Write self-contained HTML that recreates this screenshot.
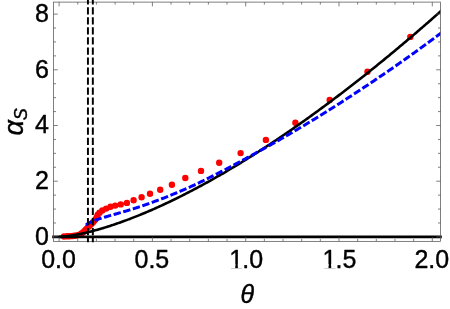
<!DOCTYPE html><html><head><meta charset="utf-8"><title>alpha_S vs theta</title><style>html,body{margin:0;padding:0;background:#fff;overflow:hidden}svg{display:block;will-change:transform}text{font-family:"Liberation Sans",sans-serif;fill:#000;stroke:#000;stroke-width:0.4px;stroke-linejoin:round}</style></head><body>
<svg width="450" height="309" viewBox="0 0 450 309">
<rect width="450" height="309" fill="#fff"/>
<defs><clipPath id="c"><rect x="53.5" y="2.1" width="387.0" height="239.25"/></clipPath></defs>
<g clip-path="url(#c)">
<path fill="#ff0000" d="M60.80,236.50a3.2,3.2 0 1,0 6.4,0a3.2,3.2 0 1,0 -6.4,0zM62.60,236.40a3.2,3.2 0 1,0 6.4,0a3.2,3.2 0 1,0 -6.4,0zM64.39,236.31a3.2,3.2 0 1,0 6.4,0a3.2,3.2 0 1,0 -6.4,0zM66.19,236.20a3.2,3.2 0 1,0 6.4,0a3.2,3.2 0 1,0 -6.4,0zM67.99,236.09a3.2,3.2 0 1,0 6.4,0a3.2,3.2 0 1,0 -6.4,0zM69.78,235.95a3.2,3.2 0 1,0 6.4,0a3.2,3.2 0 1,0 -6.4,0zM71.57,235.73a3.2,3.2 0 1,0 6.4,0a3.2,3.2 0 1,0 -6.4,0zM73.35,235.51a3.2,3.2 0 1,0 6.4,0a3.2,3.2 0 1,0 -6.4,0zM75.08,235.06a3.2,3.2 0 1,0 6.4,0a3.2,3.2 0 1,0 -6.4,0zM76.76,234.40a3.2,3.2 0 1,0 6.4,0a3.2,3.2 0 1,0 -6.4,0zM78.34,233.57a3.2,3.2 0 1,0 6.4,0a3.2,3.2 0 1,0 -6.4,0zM79.74,232.45a3.2,3.2 0 1,0 6.4,0a3.2,3.2 0 1,0 -6.4,0zM81.09,231.27a3.2,3.2 0 1,0 6.4,0a3.2,3.2 0 1,0 -6.4,0zM82.27,229.91a3.2,3.2 0 1,0 6.4,0a3.2,3.2 0 1,0 -6.4,0zM83.50,228.60a3.2,3.2 0 1,0 6.4,0a3.2,3.2 0 1,0 -6.4,0zM84.78,227.32a3.2,3.2 0 1,0 6.4,0a3.2,3.2 0 1,0 -6.4,0zM86.05,226.05a3.2,3.2 0 1,0 6.4,0a3.2,3.2 0 1,0 -6.4,0zM87.32,224.78a3.2,3.2 0 1,0 6.4,0a3.2,3.2 0 1,0 -6.4,0zM88.60,223.50a3.2,3.2 0 1,0 6.4,0a3.2,3.2 0 1,0 -6.4,0zM89.84,222.20a3.2,3.2 0 1,0 6.4,0a3.2,3.2 0 1,0 -6.4,0zM91.05,220.87a3.2,3.2 0 1,0 6.4,0a3.2,3.2 0 1,0 -6.4,0zM92.20,219.49a3.2,3.2 0 1,0 6.4,0a3.2,3.2 0 1,0 -6.4,0zM93.18,217.98a3.2,3.2 0 1,0 6.4,0a3.2,3.2 0 1,0 -6.4,0zM93.90,216.40a3.2,3.2 0 1,0 6.4,0a3.2,3.2 0 1,0 -6.4,0zM94.60,214.80a3.2,3.2 0 1,0 6.4,0a3.2,3.2 0 1,0 -6.4,0zM96.30,212.80a3.2,3.2 0 1,0 6.4,0a3.2,3.2 0 1,0 -6.4,0zM99.10,210.50a3.2,3.2 0 1,0 6.4,0a3.2,3.2 0 1,0 -6.4,0zM103.00,208.60a3.2,3.2 0 1,0 6.4,0a3.2,3.2 0 1,0 -6.4,0zM107.30,206.80a3.2,3.2 0 1,0 6.4,0a3.2,3.2 0 1,0 -6.4,0zM112.00,205.60a3.2,3.2 0 1,0 6.4,0a3.2,3.2 0 1,0 -6.4,0zM117.50,204.40a3.2,3.2 0 1,0 6.4,0a3.2,3.2 0 1,0 -6.4,0zM123.70,202.90a3.2,3.2 0 1,0 6.4,0a3.2,3.2 0 1,0 -6.4,0zM130.40,200.30a3.2,3.2 0 1,0 6.4,0a3.2,3.2 0 1,0 -6.4,0zM138.40,197.30a3.2,3.2 0 1,0 6.4,0a3.2,3.2 0 1,0 -6.4,0zM146.80,193.70a3.2,3.2 0 1,0 6.4,0a3.2,3.2 0 1,0 -6.4,0zM157.00,189.70a3.2,3.2 0 1,0 6.4,0a3.2,3.2 0 1,0 -6.4,0zM168.70,184.70a3.2,3.2 0 1,0 6.4,0a3.2,3.2 0 1,0 -6.4,0zM182.10,178.00a3.2,3.2 0 1,0 6.4,0a3.2,3.2 0 1,0 -6.4,0zM197.80,170.90a3.2,3.2 0 1,0 6.4,0a3.2,3.2 0 1,0 -6.4,0zM216.00,162.70a3.2,3.2 0 1,0 6.4,0a3.2,3.2 0 1,0 -6.4,0zM237.40,153.10a3.2,3.2 0 1,0 6.4,0a3.2,3.2 0 1,0 -6.4,0zM262.70,139.90a3.2,3.2 0 1,0 6.4,0a3.2,3.2 0 1,0 -6.4,0zM292.20,122.80a3.2,3.2 0 1,0 6.4,0a3.2,3.2 0 1,0 -6.4,0zM326.50,100.00a3.2,3.2 0 1,0 6.4,0a3.2,3.2 0 1,0 -6.4,0zM364.30,71.70a3.2,3.2 0 1,0 6.4,0a3.2,3.2 0 1,0 -6.4,0zM407.10,36.90a3.2,3.2 0 1,0 6.4,0a3.2,3.2 0 1,0 -6.4,0z"/>
<path d="M59.10,236.90 L60.39,236.86 L61.67,236.78 L62.96,236.67 L64.24,236.55 L65.53,236.41 L66.81,236.25 L68.10,236.08 L69.38,235.90 L70.67,235.71 L71.96,235.50 L73.24,235.29 L74.53,235.07 L75.81,234.83 L77.10,234.59 L78.38,234.34 L79.67,234.08 L80.96,233.81 L82.24,233.53 L83.53,233.25 L84.81,232.95 L86.10,232.65 L87.38,232.35 L88.67,232.03 L89.95,231.71 L91.24,231.39 L92.53,231.05 L93.81,230.71 L95.10,230.36 L96.38,230.01 L97.67,229.65 L98.95,229.29 L100.24,228.91 L101.52,228.54 L102.81,228.15 L104.10,227.77 L105.38,227.37 L106.67,226.97 L107.95,226.57 L109.24,226.16 L110.52,225.74 L111.81,225.32 L113.10,224.89 L114.38,224.46 L115.67,224.02 L116.95,223.58 L118.24,223.14 L119.52,222.69 L120.81,222.23 L122.09,221.77 L123.38,221.30 L124.67,220.83 L125.95,220.36 L127.24,219.88 L128.52,219.39 L129.81,218.91 L131.09,218.41 L132.38,217.91 L133.67,217.41 L134.95,216.91 L136.24,216.40 L137.52,215.88 L138.81,215.36 L140.09,214.84 L141.38,214.31 L142.66,213.78 L143.95,213.25 L145.24,212.71 L146.52,212.16 L147.81,211.61 L149.09,211.06 L150.38,210.51 L151.66,209.95 L152.95,209.38 L154.23,208.82 L155.52,208.25 L156.81,207.67 L158.09,207.09 L159.38,206.51 L160.66,205.92 L161.95,205.33 L163.23,204.74 L164.52,204.14 L165.81,203.54 L167.09,202.94 L168.38,202.33 L169.66,201.72 L170.95,201.10 L172.23,200.48 L173.52,199.86 L174.80,199.23 L176.09,198.60 L177.38,197.97 L178.66,197.33 L179.95,196.69 L181.23,196.05 L182.52,195.40 L183.80,194.75 L185.09,194.10 L186.37,193.44 L187.66,192.78 L188.95,192.12 L190.23,191.45 L191.52,190.78 L192.80,190.11 L194.09,189.43 L195.37,188.75 L196.66,188.07 L197.95,187.39 L199.23,186.70 L200.52,186.00 L201.80,185.31 L203.09,184.61 L204.37,183.91 L205.66,183.20 L206.94,182.49 L208.23,181.78 L209.52,181.07 L210.80,180.35 L212.09,179.63 L213.37,178.91 L214.66,178.18 L215.94,177.45 L217.23,176.72 L218.52,175.98 L219.80,175.25 L221.09,174.50 L222.37,173.76 L223.66,173.01 L224.94,172.26 L226.23,171.51 L227.51,170.75 L228.80,169.99 L230.09,169.23 L231.37,168.47 L232.66,167.70 L233.94,166.93 L235.23,166.16 L236.51,165.38 L237.80,164.60 L239.08,163.82 L240.37,163.04 L241.66,162.25 L242.94,161.46 L244.23,160.67 L245.51,159.87 L246.80,159.07 L248.08,158.27 L249.37,157.47 L250.66,156.66 L251.94,155.85 L253.23,155.04 L254.51,154.23 L255.80,153.41 L257.08,152.59 L258.37,151.77 L259.65,150.94 L260.94,150.11 L262.23,149.28 L263.51,148.45 L264.80,147.61 L266.08,146.78 L267.37,145.94 L268.65,145.09 L269.94,144.25 L271.22,143.40 L272.51,142.55 L273.80,141.69 L275.08,140.84 L276.37,139.98 L277.65,139.11 L278.94,138.25 L280.22,137.38 L281.51,136.52 L282.80,135.64 L284.08,134.77 L285.37,133.89 L286.65,133.01 L287.94,132.13 L289.22,131.25 L290.51,130.36 L291.79,129.47 L293.08,128.58 L294.37,127.69 L295.65,126.79 L296.94,125.89 L298.22,124.99 L299.51,124.09 L300.79,123.18 L302.08,122.27 L303.37,121.36 L304.65,120.45 L305.94,119.53 L307.22,118.61 L308.51,117.69 L309.79,116.77 L311.08,115.84 L312.36,114.92 L313.65,113.99 L314.94,113.05 L316.22,112.12 L317.51,111.18 L318.79,110.24 L320.08,109.30 L321.36,108.36 L322.65,107.41 L323.93,106.46 L325.22,105.51 L326.51,104.56 L327.79,103.60 L329.08,102.65 L330.36,101.69 L331.65,100.72 L332.93,99.76 L334.22,98.79 L335.51,97.82 L336.79,96.85 L338.08,95.88 L339.36,94.90 L340.65,93.92 L341.93,92.94 L343.22,91.96 L344.50,90.98 L345.79,89.99 L347.08,89.00 L348.36,88.01 L349.65,87.01 L350.93,86.02 L352.22,85.02 L353.50,84.02 L354.79,83.02 L356.07,82.01 L357.36,81.01 L358.65,80.00 L359.93,78.99 L361.22,77.97 L362.50,76.96 L363.79,75.94 L365.07,74.92 L366.36,73.90 L367.65,72.87 L368.93,71.85 L370.22,70.82 L371.50,69.79 L372.79,68.76 L374.07,67.72 L375.36,66.68 L376.64,65.64 L377.93,64.60 L379.22,63.56 L380.50,62.52 L381.79,61.47 L383.07,60.42 L384.36,59.37 L385.64,58.31 L386.93,57.26 L388.21,56.20 L389.50,55.14 L390.79,54.08 L392.07,53.01 L393.36,51.95 L394.64,50.88 L395.93,49.81 L397.21,48.74 L398.50,47.66 L399.79,46.59 L401.07,45.51 L402.36,44.43 L403.64,43.35 L404.93,42.26 L406.21,41.18 L407.50,40.09 L408.78,39.00 L410.07,37.90 L411.36,36.81 L412.64,35.71 L413.93,34.62 L415.21,33.52 L416.50,32.41 L417.78,31.31 L419.07,30.20 L420.36,29.09 L421.64,27.98 L422.93,26.87 L424.21,25.76 L425.50,24.64 L426.78,23.52 L428.07,22.40 L429.35,21.28 L430.64,20.16 L431.93,19.03 L433.21,17.90 L434.50,16.77 L435.78,15.64 L437.07,14.51 L438.35,13.37 L439.64,12.23 L440.92,11.09 L442.21,9.95 L443.50,8.81" fill="none" stroke="#000" stroke-width="2.6"/>
<path d="M85.97,224.91 L87.17,224.12 L88.36,223.40 L89.56,222.75 L90.75,222.15 L91.95,221.60 L93.14,221.09 L94.34,220.61 L95.54,220.15 L96.73,219.72 L97.93,219.31 L99.12,218.91 L100.32,218.52 L101.51,218.14 L102.71,217.77 L103.91,217.40 L105.10,217.04 L106.30,216.69 L107.49,216.33 L108.69,215.99 L109.89,215.64 L111.08,215.30 L112.28,214.96 L113.47,214.62 L114.67,214.29 L115.86,213.95 L117.06,213.61 L118.26,213.27 L119.45,212.93 L120.65,212.59 L121.84,212.25 L123.04,211.90 L124.23,211.56 L125.43,211.21 L126.63,210.85 L127.82,210.50 L129.02,210.14 L130.21,209.77 L131.41,209.41 L132.60,209.03 L133.80,208.66 L135.00,208.28 L136.19,207.89 L137.39,207.50 L138.58,207.10 L139.78,206.70 L140.97,206.30 L142.17,205.89 L143.37,205.48 L144.56,205.07 L145.76,204.65 L146.95,204.23 L148.15,203.81 L149.34,203.38 L150.54,202.95 L151.74,202.52 L152.93,202.09 L154.13,201.65 L155.32,201.21 L156.52,200.76 L157.71,200.32 L158.91,199.87 L160.11,199.41 L161.30,198.96 L162.50,198.50 L163.69,198.04 L164.89,197.57 L166.08,197.10 L167.28,196.63 L168.48,196.16 L169.67,195.68 L170.87,195.20 L172.06,194.71 L173.26,194.22 L174.45,193.73 L175.65,193.24 L176.85,192.74 L178.04,192.24 L179.24,191.74 L180.43,191.23 L181.63,190.72 L182.83,190.20 L184.02,189.68 L185.22,189.15 L186.41,188.62 L187.61,188.08 L188.80,187.54 L190.00,187.00 L191.20,186.44 L192.39,185.89 L193.59,185.33 L194.78,184.77 L195.98,184.20 L197.17,183.63 L198.37,183.05 L199.57,182.48 L200.76,181.90 L201.96,181.31 L203.15,180.73 L204.35,180.14 L205.54,179.55 L206.74,178.95 L207.94,178.36 L209.13,177.76 L210.33,177.16 L211.52,176.56 L212.72,175.96 L213.91,175.35 L215.11,174.75 L216.31,174.14 L217.50,173.53 L218.70,172.92 L219.89,172.32 L221.09,171.71 L222.28,171.09 L223.48,170.47 L224.68,169.85 L225.87,169.23 L227.07,168.61 L228.26,167.98 L229.46,167.35 L230.65,166.72 L231.85,166.08 L233.05,165.44 L234.24,164.80 L235.44,164.16 L236.63,163.52 L237.83,162.87 L239.02,162.23 L240.22,161.58 L241.42,160.93 L242.61,160.28 L243.81,159.62 L245.00,158.97 L246.20,158.31 L247.40,157.66 L248.59,157.00 L249.79,156.34 L250.98,155.68 L252.18,155.02 L253.37,154.36 L254.57,153.70 L255.77,153.04 L256.96,152.38 L258.16,151.72 L259.35,151.05 L260.55,150.39 L261.74,149.73 L262.94,149.07 L264.14,148.41 L265.33,147.75 L266.53,147.08 L267.72,146.42 L268.92,145.75 L270.11,145.08 L271.31,144.41 L272.51,143.74 L273.70,143.07 L274.90,142.39 L276.09,141.71 L277.29,141.04 L278.48,140.36 L279.68,139.67 L280.88,138.99 L282.07,138.30 L283.27,137.62 L284.46,136.93 L285.66,136.24 L286.85,135.55 L288.05,134.85 L289.25,134.16 L290.44,133.46 L291.64,132.76 L292.83,132.06 L294.03,131.36 L295.22,130.66 L296.42,129.95 L297.62,129.24 L298.81,128.53 L300.01,127.82 L301.20,127.11 L302.40,126.40 L303.59,125.68 L304.79,124.97 L305.99,124.25 L307.18,123.53 L308.38,122.80 L309.57,122.08 L310.77,121.35 L311.96,120.63 L313.16,119.90 L314.36,119.17 L315.55,118.44 L316.75,117.70 L317.94,116.97 L319.14,116.23 L320.34,115.49 L321.53,114.75 L322.73,114.01 L323.92,113.26 L325.12,112.52 L326.31,111.77 L327.51,111.02 L328.71,110.27 L329.90,109.52 L331.10,108.76 L332.29,108.01 L333.49,107.25 L334.68,106.49 L335.88,105.73 L337.08,104.97 L338.27,104.20 L339.47,103.44 L340.66,102.67 L341.86,101.90 L343.05,101.13 L344.25,100.36 L345.45,99.59 L346.64,98.82 L347.84,98.04 L349.03,97.27 L350.23,96.49 L351.42,95.71 L352.62,94.93 L353.82,94.15 L355.01,93.37 L356.21,92.58 L357.40,91.80 L358.60,91.01 L359.79,90.22 L360.99,89.43 L362.19,88.64 L363.38,87.85 L364.58,87.06 L365.77,86.26 L366.97,85.47 L368.16,84.67 L369.36,83.87 L370.56,83.07 L371.75,82.27 L372.95,81.46 L374.14,80.66 L375.34,79.85 L376.53,79.04 L377.73,78.23 L378.93,77.42 L380.12,76.61 L381.32,75.79 L382.51,74.98 L383.71,74.16 L384.90,73.34 L386.10,72.52 L387.30,71.70 L388.49,70.88 L389.69,70.05 L390.88,69.23 L392.08,68.40 L393.28,67.57 L394.47,66.74 L395.67,65.90 L396.86,65.07 L398.06,64.23 L399.25,63.39 L400.45,62.56 L401.65,61.71 L402.84,60.87 L404.04,60.03 L405.23,59.18 L406.43,58.33 L407.62,57.48 L408.82,56.63 L410.02,55.78 L411.21,54.92 L412.41,54.07 L413.60,53.21 L414.80,52.35 L415.99,51.48 L417.19,50.62 L418.39,49.76 L419.58,48.89 L420.78,48.02 L421.97,47.15 L423.17,46.27 L424.36,45.40 L425.56,44.52 L426.76,43.64 L427.95,42.76 L429.15,41.88 L430.34,41.00 L431.54,40.11 L432.73,39.22 L433.93,38.33 L435.13,37.44 L436.32,36.55 L437.52,35.65 L438.71,34.75 L439.91,33.85 L441.10,32.95 L442.30,32.05 L443.50,31.15" fill="none" stroke="#0000ff" stroke-width="3.0" stroke-dasharray="7.4 2.6" stroke-dashoffset="0.35"/>
</g>
<line x1="52.2" y1="236.9" x2="441.8" y2="236.9" stroke="#000" stroke-width="2.7"/>
<g stroke="#555" stroke-width="0.75" fill="none"><rect x="53.5" y="2.1" width="387.0" height="239.25"/><path d="M59.10,241.35v-4.3M59.10,2.1v4.3"/><path d="M77.76,241.35v-2.5M77.76,2.1v2.5"/><path d="M96.42,241.35v-2.5M96.42,2.1v2.5"/><path d="M115.08,241.35v-2.5M115.08,2.1v2.5"/><path d="M133.74,241.35v-2.5M133.74,2.1v2.5"/><path d="M152.40,241.35v-4.3M152.40,2.1v4.3"/><path d="M171.06,241.35v-2.5M171.06,2.1v2.5"/><path d="M189.72,241.35v-2.5M189.72,2.1v2.5"/><path d="M208.38,241.35v-2.5M208.38,2.1v2.5"/><path d="M227.04,241.35v-2.5M227.04,2.1v2.5"/><path d="M245.70,241.35v-4.3M245.70,2.1v4.3"/><path d="M264.36,241.35v-2.5M264.36,2.1v2.5"/><path d="M283.02,241.35v-2.5M283.02,2.1v2.5"/><path d="M301.68,241.35v-2.5M301.68,2.1v2.5"/><path d="M320.34,241.35v-2.5M320.34,2.1v2.5"/><path d="M339.00,241.35v-4.3M339.00,2.1v4.3"/><path d="M357.66,241.35v-2.5M357.66,2.1v2.5"/><path d="M376.32,241.35v-2.5M376.32,2.1v2.5"/><path d="M394.98,241.35v-2.5M394.98,2.1v2.5"/><path d="M413.64,241.35v-2.5M413.64,2.1v2.5"/><path d="M432.30,241.35v-4.3M432.30,2.1v4.3"/><path d="M53.5,236.90h4.3M440.5,236.90h-4.3"/><path d="M53.5,222.97h2.5M440.5,222.97h-2.5"/><path d="M53.5,209.05h2.5M440.5,209.05h-2.5"/><path d="M53.5,195.12h2.5M440.5,195.12h-2.5"/><path d="M53.5,181.20h4.3M440.5,181.20h-4.3"/><path d="M53.5,167.28h2.5M440.5,167.28h-2.5"/><path d="M53.5,153.35h2.5M440.5,153.35h-2.5"/><path d="M53.5,139.43h2.5M440.5,139.43h-2.5"/><path d="M53.5,125.50h4.3M440.5,125.50h-4.3"/><path d="M53.5,111.58h2.5M440.5,111.58h-2.5"/><path d="M53.5,97.65h2.5M440.5,97.65h-2.5"/><path d="M53.5,83.72h2.5M440.5,83.72h-2.5"/><path d="M53.5,69.80h4.3M440.5,69.80h-4.3"/><path d="M53.5,55.88h2.5M440.5,55.88h-2.5"/><path d="M53.5,41.95h2.5M440.5,41.95h-2.5"/><path d="M53.5,28.03h2.5M440.5,28.03h-2.5"/><path d="M53.5,14.10h4.3M440.5,14.10h-4.3"/></g>
<line x1="87.94" y1="-2.77" x2="87.94" y2="242.3" stroke="#000" stroke-width="1.95" stroke-dasharray="7.25 2.78"/>
<line x1="92.83" y1="-2.77" x2="92.83" y2="242.3" stroke="#000" stroke-width="1.95" stroke-dasharray="7.25 2.78"/>
<text x="49" y="244.8" font-size="25" text-anchor="end">0</text>
<text x="49" y="189.1" font-size="25" text-anchor="end">2</text>
<text x="49" y="133.4" font-size="25" text-anchor="end">4</text>
<text x="49" y="77.7" font-size="25" text-anchor="end">6</text>
<text x="49" y="22.0" font-size="25" text-anchor="end">8</text>
<text x="58.6" y="267.7" font-size="25" text-anchor="middle">0.0</text>
<text x="151.9" y="267.7" font-size="25" text-anchor="middle">0.5</text>
<clipPath id="k10"><path clip-rule="evenodd" d="M0,0H450V309H0Z M228.30,264.0H235.30V268.3H228.30Z M237.85,264.0H243.30V268.3H237.85Z"/></clipPath>
<text x="245.2" y="267.7" font-size="25" text-anchor="middle" clip-path="url(#k10)"><tspan dx="1">1</tspan><tspan dx="-1">.0</tspan></text>
<clipPath id="k15"><path clip-rule="evenodd" d="M0,0H450V309H0Z M321.60,264.0H328.60V268.3H321.60Z M331.15,264.0H336.60V268.3H331.15Z"/></clipPath>
<text x="338.5" y="267.7" font-size="25" text-anchor="middle" clip-path="url(#k15)"><tspan dx="1">1</tspan><tspan dx="-1">.5</tspan></text>
<text x="431.8" y="267.7" font-size="25" text-anchor="middle">2.0</text>
<text x="247.4" y="303.4" font-size="25" font-style="italic" text-anchor="middle">θ</text>
<text transform="translate(23.1,135.5) rotate(-90)" font-size="27" font-style="italic">α</text>
<text transform="translate(26.7,120.3) rotate(-90)" font-size="18" font-style="italic">S</text>
</svg></body></html>
